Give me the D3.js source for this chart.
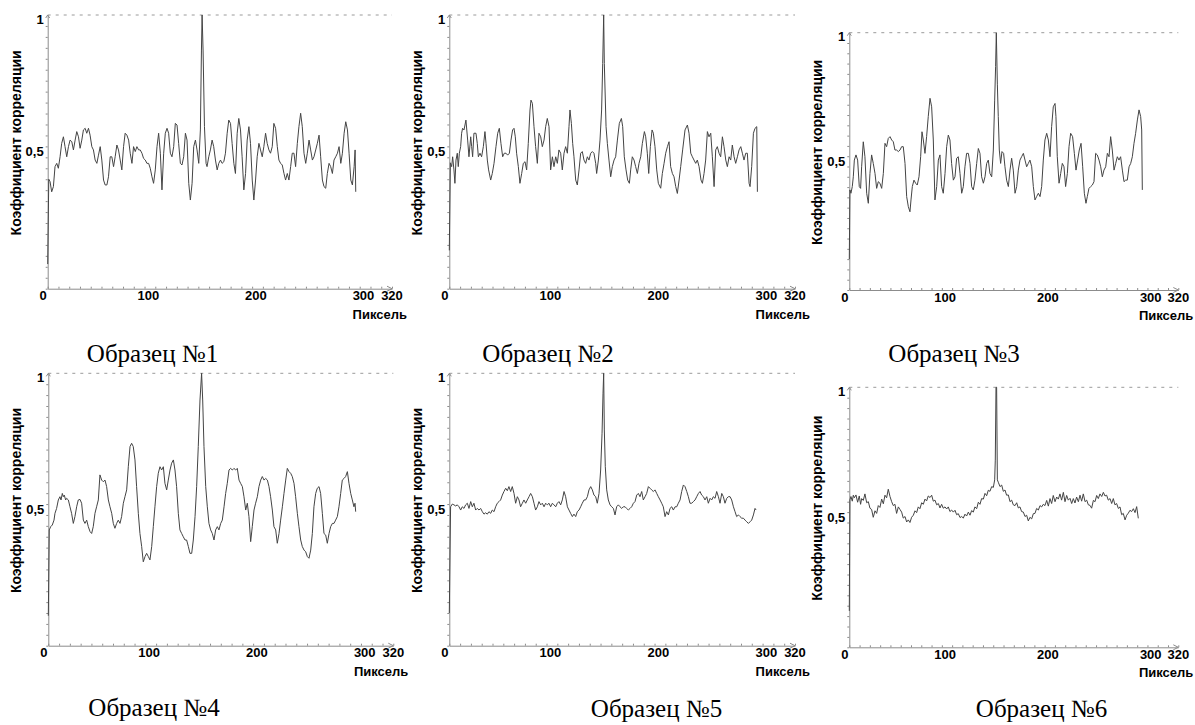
<!DOCTYPE html>
<html>
<head>
<meta charset="utf-8">
<script src="https://cdn.jsdelivr.net/npm/d3@7"></script>
<style>
  body { margin: 0; background: #fff; }
  svg { display: block; }
</style>
</head>
<body>
<svg id="chart" width="1195" height="725"></svg>
<script>
// tick labels
const xTickValues = [0, 100, 200, 300, 320];
const xTickText = ['0', '100', '200', '300', '320'];
const yTickValues = [0.5, 1];
const yTickText = ['0,5', '1'];
const xTitle = 'Пиксель';
const yTitle = 'Коэффициент корреляции';
const panelTitles = ['Образец №1', 'Образец №2', 'Образец №3', 'Образец №4', 'Образец №5', 'Образец №6'];

// correlation curves, [pixel, coefficient]
const series1 = [[0,0.09],[1,0.40],[2.2,0.391],[3.7,0.354],[5.3,0.373],[6.8,0.446],[8.4,0.458],[9.9,0.44],[11.5,0.482],[13.0,0.531],[14.6,0.555],[16.1,0.519],[17.7,0.482],[19.3,0.519],[20.8,0.543],[22.4,0.537],[23.9,0.507],[25.5,0.543],[27.0,0.574],[28.6,0.555],[30.1,0.513],[31.7,0.543],[33.2,0.58],[34.8,0.586],[36.3,0.568],[37.9,0.586],[39.4,0.561],[41.0,0.519],[42.5,0.507],[44.1,0.47],[45.7,0.458],[47.2,0.488],[48.8,0.519],[50.3,0.47],[51.9,0.397],[53.4,0.379],[55.0,0.379],[56.5,0.409],[58.1,0.482],[59.6,0.482],[61.2,0.446],[62.7,0.482],[64.3,0.525],[65.8,0.507],[67.4,0.47],[68.9,0.434],[70.5,0.519],[72.0,0.568],[73.6,0.561],[75.2,0.543],[76.7,0.495],[78.3,0.458],[79.8,0.519],[81.4,0.501],[82.9,0.519],[84.5,0.507],[86.0,0.507],[87.6,0.495],[89.1,0.476],[90.7,0.47],[92.2,0.458],[93.8,0.458],[95.3,0.44],[96.9,0.409],[98.4,0.385],[100.0,0.434],[101.6,0.519],[103.1,0.568],[104.7,0.495],[106.2,0.361],[107.8,0.495],[109.3,0.568],[110.9,0.586],[112.4,0.568],[114.0,0.495],[115.5,0.482],[117.1,0.519],[118.6,0.604],[120.2,0.598],[121.7,0.531],[123.3,0.458],[124.8,0.452],[126.4,0.482],[128.0,0.568],[129.5,0.543],[131.1,0.385],[132.6,0.324],[134.2,0.385],[135.7,0.519],[137.3,0.543],[138.8,0.507],[140.4,0.458],[141.9,0.58],[142.9,0.872],[143.5,1.0],[144.4,0.872],[145.7,0.592],[147.2,0.458],[148.1,0.446],[149.7,0.482],[151.2,0.507],[152.8,0.543],[154.3,0.519],[155.9,0.47],[157.5,0.434],[159.0,0.458],[160.6,0.47],[162.1,0.458],[163.7,0.464],[165.2,0.495],[166.8,0.568],[168.3,0.616],[169.9,0.604],[171.4,0.531],[173.0,0.458],[174.5,0.421],[176.1,0.568],[177.6,0.622],[179.2,0.58],[180.7,0.482],[182.3,0.361],[183.9,0.421],[185.4,0.543],[187.0,0.592],[188.5,0.531],[190.1,0.397],[191.6,0.324],[193.2,0.397],[194.7,0.482],[196.3,0.531],[197.8,0.507],[199.4,0.482],[200.9,0.519],[202.5,0.568],[204.0,0.531],[205.6,0.507],[207.1,0.495],[208.7,0.519],[210.2,0.604],[211.8,0.586],[213.4,0.519],[214.9,0.47],[216.5,0.458],[218.0,0.452],[219.6,0.421],[221.1,0.397],[222.7,0.421],[224.2,0.397],[225.8,0.446],[227.3,0.495],[228.9,0.495],[230.4,0.446],[232.0,0.531],[233.5,0.592],[235.1,0.641],[236.6,0.592],[238.2,0.495],[239.8,0.458],[241.3,0.495],[242.9,0.543],[244.4,0.507],[246.0,0.47],[247.5,0.482],[249.1,0.507],[250.6,0.531],[252.2,0.561],[253.7,0.482],[255.3,0.397],[256.8,0.373],[258.4,0.367],[259.9,0.421],[261.5,0.458],[263.0,0.446],[264.6,0.421],[266.1,0.47],[267.7,0.482],[269.3,0.495],[270.8,0.519],[272.4,0.458],[273.9,0.495],[275.5,0.568],[277.0,0.61],[278.6,0.58],[280.1,0.495],[281.7,0.397],[283.2,0.379],[284.8,0.446],[285.7,0.507],[286.3,0.354]];

const series2 = [[0,0.14],[1,0.46],[1.2,0.458],[2.2,0.446],[3.1,0.482],[4.3,0.434],[5.2,0.385],[6.2,0.470],[7.4,0.495],[8.3,0.446],[9.3,0.495],[10.5,0.519],[11.4,0.568],[12.3,0.586],[13.6,0.580],[15.4,0.616],[17.0,0.543],[18.2,0.482],[19.8,0.555],[20.7,0.519],[21.6,0.482],[22.8,0.568],[24.7,0.568],[25.9,0.531],[26.9,0.482],[28.4,0.495],[29.9,0.482],[31.5,0.519],[33.0,0.574],[34.0,0.531],[35.2,0.470],[36.4,0.434],[38.3,0.397],[39.8,0.421],[41.4,0.458],[43.2,0.519],[44.8,0.568],[46.3,0.586],[47.8,0.531],[49.4,0.482],[50.9,0.495],[52.5,0.495],[54.0,0.488],[55.6,0.495],[57.1,0.543],[58.6,0.580],[59.9,0.586],[61.1,0.555],[62.3,0.495],[63.9,0.446],[65.4,0.385],[67.0,0.421],[68.5,0.458],[70.1,0.464],[71.6,0.434],[73.1,0.531],[74.7,0.653],[75.6,0.689],[76.9,0.677],[78.4,0.592],[79.9,0.519],[81.5,0.458],[83.0,0.568],[84.6,0.555],[86.1,0.519],[87.7,0.543],[89.2,0.592],[90.7,0.622],[92.3,0.592],[93.8,0.434],[95.4,0.482],[96.9,0.446],[98.5,0.482],[100.0,0.458],[101.5,0.507],[103.1,0.495],[104.6,0.434],[106.2,0.495],[107.7,0.519],[109.3,0.495],[110.8,0.592],[111.7,0.653],[113.0,0.604],[114.2,0.531],[115.4,0.482],[117.0,0.397],[118.5,0.379],[120.1,0.434],[121.6,0.495],[123.1,0.501],[124.7,0.470],[126.2,0.458],[127.8,0.482],[129.3,0.470],[130.9,0.495],[132.4,0.501],[133.9,0.495],[135.5,0.458],[136.4,0.421],[138.0,0.470],[139.5,0.543],[141.0,0.653],[142.0,0.823],[142.9,1.0],[143.5,0.823],[145.1,0.592],[146.3,0.531],[147.8,0.470],[149.4,0.409],[150.9,0.446],[152.5,0.470],[154.0,0.482],[155.6,0.543],[157.4,0.604],[159.3,0.622],[160.5,0.592],[162.0,0.482],[163.6,0.434],[165.1,0.397],[166.7,0.385],[167.9,0.434],[169.4,0.482],[171.0,0.470],[172.5,0.446],[174.1,0.421],[175.6,0.458],[177.2,0.482],[178.7,0.531],[180.6,0.574],[181.8,0.555],[183.3,0.495],[184.6,0.421],[186.1,0.519],[187.7,0.580],[188.9,0.568],[190.4,0.519],[192.0,0.434],[193.5,0.385],[195.7,0.367],[197.2,0.421],[198.8,0.458],[200.3,0.495],[201.9,0.519],[203.4,0.537],[204.9,0.446],[206.5,0.421],[208.0,0.409],[209.6,0.373],[211.1,0.348],[212.7,0.397],[214.2,0.446],[216.0,0.507],[218.2,0.580],[220.4,0.598],[221.9,0.568],[223.5,0.495],[225.0,0.482],[226.5,0.470],[228.1,0.458],[229.6,0.470],[231.2,0.446],[233.0,0.397],[234.3,0.385],[235.8,0.421],[237.3,0.470],[238.9,0.574],[240.4,0.555],[242.0,0.568],[243.5,0.482],[245.1,0.373],[246.6,0.507],[248.1,0.519],[249.7,0.495],[251.2,0.482],[252.8,0.555],[254.3,0.519],[255.9,0.470],[257.4,0.446],[259.0,0.482],[260.5,0.470],[262.0,0.525],[263.6,0.482],[265.1,0.458],[266.7,0.482],[268.2,0.507],[269.8,0.519],[271.3,0.495],[272.8,0.470],[274.4,0.495],[275.9,0.495],[277.5,0.385],[278.4,0.373],[279.9,0.446],[281.5,0.568],[283.0,0.586],[284.6,0.592],[285.2,0.354]];

const series3 = [[0,0.12],[0.6,0.389],[1.6,0.376],[2.9,0.402],[3.9,0.440],[4.9,0.505],[6.5,0.525],[8.1,0.505],[9.7,0.402],[11.0,0.395],[12.0,0.479],[13.6,0.576],[15.2,0.518],[16.9,0.376],[18.5,0.337],[20.1,0.453],[21.7,0.525],[23.3,0.492],[25.0,0.453],[26.6,0.395],[28.2,0.421],[29.8,0.415],[31.5,0.395],[33.1,0.453],[34.7,0.570],[36.3,0.557],[37.9,0.589],[39.6,0.596],[41.2,0.583],[42.8,0.576],[44.4,0.544],[46.0,0.544],[47.7,0.538],[49.3,0.544],[50.9,0.557],[52.5,0.557],[54.2,0.492],[55.8,0.363],[57.4,0.324],[59.0,0.304],[60.0,0.350],[61.3,0.402],[62.9,0.427],[64.5,0.415],[66.1,0.408],[67.8,0.440],[69.4,0.518],[70.7,0.615],[72.0,0.583],[73.6,0.531],[75.2,0.596],[76.8,0.674],[78.5,0.745],[80.1,0.712],[81.7,0.583],[83.3,0.350],[85.0,0.402],[86.6,0.505],[88.2,0.525],[89.8,0.402],[91.4,0.376],[93.1,0.453],[94.7,0.557],[96.3,0.602],[97.9,0.583],[99.5,0.492],[101.2,0.427],[102.8,0.440],[104.4,0.512],[106.0,0.518],[107.7,0.453],[109.3,0.376],[110.9,0.402],[112.5,0.479],[114.1,0.531],[115.8,0.531],[117.4,0.492],[119.0,0.402],[120.6,0.389],[122.2,0.427],[123.9,0.492],[125.5,0.550],[127.1,0.531],[128.7,0.440],[130.4,0.415],[132.0,0.440],[133.6,0.492],[135.2,0.505],[136.8,0.453],[138.5,0.440],[140.1,0.544],[141.4,0.738],[142.3,0.868],[143.0,1.0],[144.0,0.80],[144.9,0.674],[145.9,0.544],[147.2,0.492],[148.5,0.538],[150.1,0.531],[151.4,0.479],[153.0,0.427],[154.7,0.402],[156.3,0.466],[157.9,0.512],[159.5,0.466],[161.2,0.376],[162.8,0.402],[164.4,0.466],[166.0,0.505],[167.6,0.518],[169.3,0.531],[170.9,0.505],[172.5,0.479],[174.1,0.492],[175.7,0.505],[177.4,0.479],[179.0,0.402],[180.6,0.350],[182.2,0.363],[183.9,0.376],[185.5,0.363],[187.1,0.402],[188.7,0.505],[190.3,0.583],[192.0,0.609],[193.6,0.583],[195.2,0.518],[196.8,0.635],[198.4,0.712],[200.1,0.725],[201.0,0.674],[202.3,0.518],[204.0,0.415],[205.6,0.453],[207.2,0.492],[208.8,0.479],[210.4,0.402],[212.1,0.453],[213.7,0.557],[215.3,0.609],[217.2,0.596],[218.9,0.531],[220.5,0.466],[222.1,0.505],[223.7,0.544],[225.4,0.570],[227.0,0.479],[228.6,0.376],[230.2,0.337],[231.5,0.363],[233.1,0.395],[234.8,0.402],[236.4,0.408],[238.0,0.421],[239.6,0.531],[241.2,0.525],[242.9,0.505],[244.5,0.479],[246.1,0.440],[247.7,0.466],[249.4,0.479],[251.0,0.531],[252.6,0.518],[254.2,0.596],[255.8,0.544],[257.5,0.466],[259.1,0.492],[260.7,0.518],[262.3,0.505],[263.9,0.518],[265.6,0.466],[267.2,0.421],[268.8,0.427],[270.4,0.427],[272.1,0.479],[273.7,0.492],[275.3,0.518],[276.9,0.570],[278.5,0.609],[280.2,0.661],[281.8,0.70],[283.4,0.674],[284.4,0.622],[285.0,0.389]];

const series4 = [[0,0.11],[0.9,0.425],[2.2,0.437],[3.7,0.443],[5.3,0.461],[6.2,0.486],[7.7,0.504],[9.3,0.535],[10.8,0.547],[11.8,0.535],[13.0,0.559],[13.9,0.547],[14.8,0.553],[16.1,0.535],[17.0,0.541],[18.6,0.535],[20.1,0.510],[21.6,0.486],[23.2,0.449],[24.7,0.474],[26.3,0.510],[27.8,0.535],[29.4,0.537],[30.9,0.523],[32.5,0.461],[34.0,0.449],[35.6,0.461],[37.1,0.437],[38.7,0.419],[40.2,0.412],[41.7,0.437],[43.3,0.486],[44.8,0.510],[46.4,0.535],[47.9,0.627],[49.5,0.608],[51.0,0.602],[52.6,0.608],[54.1,0.584],[55.7,0.535],[57.2,0.510],[58.8,0.486],[60.3,0.449],[61.8,0.431],[63.4,0.449],[64.9,0.461],[66.5,0.449],[68.0,0.474],[69.6,0.523],[71.1,0.547],[72.7,0.572],[74.2,0.657],[75.8,0.731],[77.3,0.743],[78.8,0.731],[80.4,0.682],[81.9,0.584],[83.5,0.486],[85.0,0.412],[86.6,0.364],[88.1,0.308],[89.7,0.327],[91.2,0.339],[92.8,0.327],[94.3,0.315],[95.9,0.364],[97.4,0.437],[98.9,0.510],[100.5,0.584],[102.0,0.633],[103.6,0.657],[105.1,0.645],[106.7,0.657],[108.2,0.596],[109.8,0.572],[111.3,0.608],[112.9,0.645],[114.4,0.670],[116.0,0.682],[117.5,0.645],[119.0,0.584],[120.6,0.486],[122.1,0.425],[123.7,0.412],[125.2,0.400],[126.8,0.388],[128.3,0.388],[129.9,0.364],[131.4,0.339],[133.0,0.339],[134.5,0.388],[136.1,0.474],[137.6,0.584],[139.1,0.731],[140.7,0.902],[142.2,1.0],[143.2,0.902],[144.4,0.731],[146.0,0.584],[147.5,0.510],[149.0,0.449],[150.6,0.425],[152.1,0.412],[153.7,0.388],[155.2,0.425],[156.8,0.437],[158.3,0.425],[159.9,0.449],[161.4,0.461],[163.0,0.510],[164.5,0.559],[166.0,0.596],[167.6,0.645],[169.1,0.651],[170.7,0.645],[172.2,0.651],[173.8,0.645],[175.3,0.651],[176.9,0.608],[178.4,0.596],[180.0,0.584],[181.5,0.547],[183.1,0.498],[184.6,0.523],[186.1,0.474],[187.7,0.382],[189.2,0.437],[190.8,0.498],[192.3,0.523],[193.9,0.547],[195.4,0.584],[197.0,0.608],[198.5,0.621],[200.1,0.608],[201.6,0.614],[203.2,0.608],[204.7,0.584],[206.2,0.547],[207.8,0.498],[209.3,0.437],[210.9,0.425],[212.4,0.376],[214.0,0.412],[215.5,0.461],[217.1,0.510],[218.6,0.559],[220.2,0.608],[221.7,0.651],[223.3,0.639],[224.8,0.633],[226.3,0.621],[227.9,0.596],[229.4,0.547],[231.0,0.486],[232.5,0.437],[234.1,0.388],[235.6,0.364],[237.2,0.351],[238.7,0.345],[240.3,0.327],[241.8,0.321],[243.4,0.351],[244.9,0.412],[246.4,0.510],[248.0,0.559],[249.5,0.578],[251.1,0.584],[252.6,0.559],[254.2,0.486],[255.7,0.412],[257.3,0.406],[258.8,0.376],[260.4,0.412],[261.9,0.437],[263.5,0.449],[265.0,0.449],[266.5,0.461],[268.1,0.474],[269.6,0.510],[271.2,0.559],[272.7,0.608],[274.3,0.614],[275.8,0.621],[277.4,0.639],[278.9,0.596],[280.5,0.559],[282.0,0.535],[283.5,0.510],[284.5,0.523],[285.1,0.492]];

const series5 = [[0,0.12],[1.2,0.510],[2.8,0.520],[4.3,0.517],[5.9,0.513],[7.4,0.517],[9.0,0.510],[10.5,0.498],[12.0,0.510],[13.6,0.504],[15.1,0.517],[16.7,0.523],[18.2,0.504],[19.8,0.529],[21.3,0.510],[22.8,0.523],[24.4,0.498],[25.9,0.504],[27.5,0.498],[29.0,0.504],[30.6,0.492],[32.1,0.483],[33.6,0.488],[35.2,0.483],[36.7,0.492],[38.3,0.486],[39.8,0.498],[41.4,0.492],[42.9,0.510],[44.4,0.523],[46.0,0.529],[47.5,0.535],[49.1,0.553],[50.6,0.566],[52.2,0.578],[53.7,0.569],[55.2,0.584],[56.8,0.566],[58.3,0.584],[59.9,0.559],[61.4,0.523],[63.0,0.547],[64.5,0.535],[66.0,0.510],[67.6,0.523],[69.1,0.535],[70.7,0.523],[72.2,0.535],[73.8,0.547],[75.3,0.559],[76.9,0.547],[78.4,0.523],[79.9,0.498],[81.5,0.510],[83.0,0.529],[84.6,0.517],[86.1,0.523],[87.7,0.510],[89.2,0.523],[90.7,0.517],[92.3,0.523],[93.8,0.510],[95.4,0.523],[96.9,0.517],[98.5,0.510],[100.0,0.523],[101.5,0.529],[103.1,0.517],[104.6,0.535],[106.2,0.566],[107.7,0.547],[109.3,0.510],[110.8,0.498],[112.3,0.486],[113.9,0.474],[115.4,0.483],[117.0,0.474],[118.5,0.492],[120.1,0.498],[121.6,0.510],[123.1,0.523],[124.7,0.535],[126.2,0.535],[127.8,0.547],[129.3,0.572],[130.9,0.584],[132.4,0.572],[133.9,0.553],[135.5,0.547],[137.0,0.523],[138.6,0.559],[140.1,0.645],[141.4,0.780],[142.3,0.927],[142.9,1.0],[143.5,0.792],[144.4,0.657],[145.7,0.572],[147.2,0.535],[148.8,0.517],[150.3,0.510],[151.9,0.504],[153.4,0.480],[154.9,0.510],[156.5,0.517],[158.0,0.510],[159.6,0.504],[161.1,0.510],[162.7,0.510],[164.2,0.504],[165.7,0.498],[167.3,0.504],[168.8,0.510],[170.4,0.523],[171.9,0.529],[173.5,0.553],[175.0,0.559],[176.5,0.547],[178.1,0.566],[179.6,0.535],[181.2,0.547],[182.7,0.559],[184.3,0.584],[185.8,0.578],[187.3,0.572],[188.9,0.566],[190.4,0.572],[192.0,0.559],[193.5,0.547],[195.1,0.535],[196.6,0.523],[198.1,0.510],[199.7,0.474],[201.2,0.492],[202.8,0.480],[204.3,0.504],[205.9,0.510],[207.4,0.498],[209.0,0.510],[210.5,0.510],[212.0,0.523],[213.6,0.535],[215.1,0.566],[216.7,0.590],[218.2,0.584],[219.8,0.566],[221.3,0.547],[222.8,0.523],[224.4,0.523],[225.9,0.529],[227.5,0.535],[229.0,0.547],[230.6,0.559],[232.1,0.566],[233.6,0.553],[235.2,0.547],[236.7,0.535],[238.3,0.547],[239.8,0.523],[241.4,0.541],[242.9,0.535],[244.4,0.547],[246.0,0.541],[247.5,0.566],[249.1,0.547],[250.6,0.523],[252.2,0.559],[253.7,0.547],[255.2,0.523],[256.8,0.541],[258.3,0.547],[259.9,0.547],[261.4,0.535],[263.0,0.510],[264.5,0.492],[266.0,0.474],[267.6,0.480],[269.1,0.474],[270.7,0.468],[272.2,0.468],[273.8,0.461],[275.3,0.455],[276.9,0.449],[278.4,0.455],[279.9,0.461],[281.5,0.480],[283.0,0.504],[284.0,0.498]];

const series6 = [[0,0.14],[0.6,0.567],[1.6,0.580],[2.9,0.562],[3.9,0.585],[4.9,0.575],[6.5,0.586],[8.1,0.558],[9.7,0.582],[11.0,0.550],[12.0,0.572],[13.6,0.565],[15.2,0.590],[16.9,0.556],[18.5,0.560],[20.1,0.535],[21.7,0.530],[23.3,0.500],[25.0,0.525],[26.6,0.515],[28.2,0.545],[29.8,0.538],[31.5,0.570],[33.1,0.552],[34.7,0.585],[36.3,0.575],[37.9,0.608],[39.6,0.580],[41.2,0.560],[42.8,0.545],[44.4,0.550],[46.0,0.515],[47.7,0.540],[49.3,0.530],[50.9,0.520],[52.5,0.497],[54.2,0.503],[55.8,0.482],[57.4,0.490],[59.0,0.480],[60.6,0.500],[62.3,0.508],[63.9,0.525],[65.5,0.518],[67.1,0.540],[68.7,0.533],[70.4,0.556],[72.0,0.550],[73.6,0.570],[75.2,0.563],[76.8,0.582],[78.5,0.576],[80.1,0.585],[81.7,0.562],[83.3,0.566],[85.0,0.548],[86.6,0.553],[88.2,0.536],[89.8,0.550],[91.4,0.535],[93.1,0.540],[94.7,0.532],[96.3,0.540],[97.9,0.522],[99.5,0.528],[101.2,0.520],[102.8,0.527],[104.4,0.510],[106.0,0.514],[107.7,0.499],[109.3,0.503],[110.9,0.497],[112.5,0.512],[114.1,0.505],[115.8,0.520],[117.4,0.508],[119.0,0.526],[120.6,0.520],[122.2,0.540],[123.9,0.533],[125.5,0.558],[127.1,0.550],[128.7,0.572],[130.4,0.570],[132.0,0.592],[133.6,0.583],[135.2,0.604],[136.8,0.600],[138.5,0.618],[140.1,0.615],[141.4,0.644],[142.0,0.72],[142.7,1.0],[143.3,1.0],[144.0,0.644],[144.9,0.635],[146.6,0.618],[148.2,0.624],[149.8,0.600],[151.4,0.605],[153.0,0.585],[154.7,0.586],[156.3,0.560],[157.9,0.566],[159.5,0.548],[161.2,0.545],[162.8,0.556],[164.4,0.536],[166.0,0.540],[167.6,0.522],[169.3,0.520],[170.9,0.503],[172.5,0.508],[174.1,0.486],[175.7,0.500],[177.4,0.494],[179.0,0.514],[180.6,0.515],[182.2,0.534],[183.9,0.528],[185.5,0.545],[187.1,0.540],[188.7,0.550],[190.3,0.545],[192.0,0.565],[193.6,0.543],[195.2,0.572],[196.8,0.553],[198.4,0.584],[200.1,0.560],[201.7,0.578],[203.3,0.570],[204.9,0.590],[206.5,0.566],[208.2,0.596],[209.8,0.560],[211.4,0.584],[213.0,0.566],[214.7,0.573],[216.3,0.553],[217.9,0.572],[219.5,0.555],[221.1,0.578],[222.8,0.560],[224.4,0.585],[226.0,0.562],[227.6,0.590],[229.3,0.560],[230.9,0.566],[232.5,0.548],[234.1,0.546],[235.7,0.535],[237.4,0.565],[239.0,0.560],[240.6,0.584],[242.2,0.572],[243.8,0.590],[245.5,0.580],[247.1,0.596],[248.7,0.582],[250.3,0.585],[251.9,0.566],[253.6,0.572],[255.2,0.553],[256.8,0.572],[258.4,0.548],[260.0,0.553],[261.7,0.534],[263.3,0.540],[264.9,0.510],[266.5,0.515],[268.2,0.490],[269.8,0.508],[271.4,0.516],[273.0,0.527],[274.6,0.522],[276.3,0.533],[277.9,0.518],[279.5,0.541],[281.1,0.496]];

const allSeries = [series1, series2, series3, series4, series5, series6];

// where each small chart sits on the page
const frames = [
  {left: 47.7, right: 392, top: 15, bottom: 288.7, titleX: 152.5, titleY: 362},
  {left: 449.3, right: 795, top: 15, bottom: 288.7, titleX: 548, titleY: 362},
  {left: 849.3, right: 1178.3, top: 32.7, bottom: 290, titleX: 954, titleY: 362},
  {left: 48.3, right: 393.3, top: 373.3, bottom: 645.7, titleX: 154, titleY: 716},
  {left: 449.3, right: 795, top: 373.3, bottom: 645.7, titleX: 656.5, titleY: 716.5},
  {left: 849.3, right: 1178.3, top: 387.3, bottom: 647.3, titleX: 1041.5, titleY: 716.5}
];

const svg = d3.select('#chart');
const sans = '"Liberation Sans", Arial, sans-serif';
const serif = '"Liberation Serif", "Times New Roman", serif';
const axisColor = '#8c8c8c';

function drawPanel(frame, values, title) {
  const x = d3.scaleLinear().domain([0, 320]).range([frame.left, frame.right]);
  const y = d3.scaleLinear().domain([0, 1]).range([frame.bottom, frame.top]);
  const g = svg.append('g');

  // dotted level at 1
  g.append('line')
    .attr('x1', x(0)).attr('x2', x(320))
    .attr('y1', y(1)).attr('y2', y(1))
    .attr('stroke', '#9a9a9a')
    .attr('stroke-dasharray', '3,5');

  // axes with small ticks
  g.append('g')
    .attr('transform', `translate(0,${y(0)})`)
    .call(d3.axisTop(x).tickValues(d3.range(0, 321, 10)).tickSize(2).tickSizeOuter(0).tickFormat(''));
  g.append('g')
    .attr('transform', `translate(${x(0)},0)`)
    .call(d3.axisLeft(y).tickValues(d3.range(0, 25).map(i => i * 0.04)).tickSize(2).tickSizeOuter(0).tickFormat(''));
  g.selectAll('.domain, .tick line').attr('stroke', axisColor);

  // arrow heads
  g.append('path')
    .attr('d', `M${x(320) - 5},${y(0) - 2.5}L${x(320)},${y(0)}L${x(320) - 5},${y(0) + 2.5}`)
    .attr('fill', 'none').attr('stroke', axisColor);
  g.append('path')
    .attr('d', `M${x(0) - 2},${y(1) + 3}L${x(0)},${y(1)}L${x(0) + 2},${y(1) + 3}`)
    .attr('fill', 'none').attr('stroke', axisColor);

  // curve
  const line = d3.line().x(d => x(d[0])).y(d => y(d[1]));
  g.append('path')
    .datum(values)
    .attr('d', line)
    .attr('fill', 'none')
    .attr('stroke', '#444')
    .attr('stroke-width', 1);

  // tick labels
  xTickValues.forEach((v, i) => {
    let dx = -7;
    if (v === 0) dx = -4.5;
    if (v === 320) dx = 0;
    g.append('text')
      .attr('x', x(v) + dx)
      .attr('y', y(0) + 11.5)
      .attr('text-anchor', 'middle')
      .attr('font-family', sans).attr('font-weight', 'bold').attr('font-size', 13)
      .text(xTickText[i]);
  });
  yTickValues.forEach((v, i) => {
    g.append('text')
      .attr('x', x(0) - 4)
      .attr('y', v === 1 ? y(v) + 8.5 : y(v) + 4.5)
      .attr('text-anchor', 'end')
      .attr('font-family', sans).attr('font-weight', 'bold').attr('font-size', 13)
      .text(yTickText[i]);
  });

  // axis titles
  g.append('text')
    .attr('x', x(320) + 15)
    .attr('y', y(0) + 30)
    .attr('text-anchor', 'end')
    .attr('font-family', sans).attr('font-weight', 'bold').attr('font-size', 13)
    .text(xTitle);
  g.append('text')
    .attr('transform', `translate(${x(0) - 27},${(y(0) + y(1)) / 2 - 9}) rotate(-90)`)
    .attr('text-anchor', 'middle')
    .attr('font-family', sans).attr('font-weight', 'bold').attr('font-size', 14)
    .text(yTitle);

  // caption under the chart
  svg.append('text')
    .attr('x', frame.titleX)
    .attr('y', frame.titleY)
    .attr('text-anchor', 'middle')
    .attr('font-family', serif).attr('font-size', 25)
    .text(title);
}

for (let i = 0; i < frames.length; i++) {
  drawPanel(frames[i], allSeries[i], panelTitles[i]);
}
</script>
</body>
</html>
